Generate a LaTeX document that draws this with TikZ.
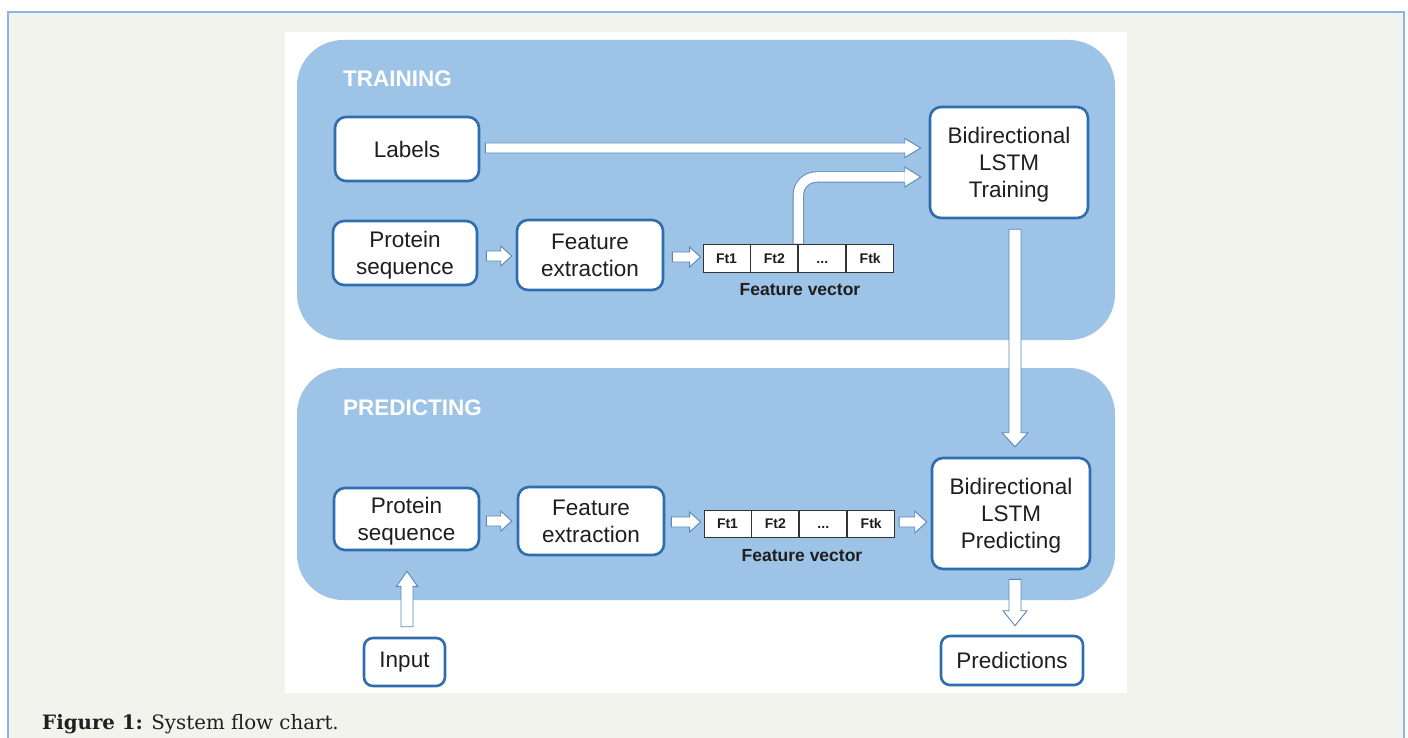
\documentclass[tikz,border=0pt]{standalone}
\usepackage{fontspec}
\setmainfont{Liberation Sans}
\newfontfamily\capfont{DejaVu Serif}
\usetikzlibrary{calc}
\definecolor{bgc}{HTML}{F3F3EE}
\definecolor{framec}{HTML}{8CB3E8}
\definecolor{panelc}{HTML}{9DC3E6}
\definecolor{nodec}{HTML}{2E6EAF}
\definecolor{arrc}{HTML}{5A86B8}
\definecolor{txtc}{HTML}{1E1E1E}
\begin{document}
\begin{tikzpicture}[x=1pt,y=-1pt,
  box/.style={draw=nodec, line width=2.6pt, fill=white, rounded corners=11pt, align=center, text=txtc, font=\fontsize{22.5}{27}\selectfont, inner sep=0pt},
  mline/.style={text depth=-1.5pt},
  cell/.style={draw=black!80, line width=0.9pt, fill=white, minimum width=47pt, minimum height=28pt, inner sep=0pt, text height=10.2pt, text depth=0pt, text=txtc, font=\bfseries\fontsize{14}{16}\selectfont},
  panel/.style={fill=panelc, rounded corners=46pt},
  ptitle/.style={anchor=base west, text=white, inner sep=0pt, font=\bfseries\fontsize{22.5}{27}\selectfont},
  fvlab/.style={font=\bfseries\fontsize{17.5}{20}\selectfont, text=txtc, inner sep=0pt},
  aw/.store in=\aw, ah/.store in=\ah, al/.store in=\al,
  aw=5pt, ah=10pt, al=11pt,
  barrow/.style={draw=arrc, line width=0.9pt, fill=white, to path={let \p1=(\tikztostart), \p2=(\tikztotarget), \n1={atan2(\y2-\y1,\x2-\x1)}, \n2={veclen(\x2-\x1,\y2-\y1)} in ($(\p1)+({\n1+90}:\aw)$) -- ($(\p1)+(\n1:{\n2-\al})+({\n1+90}:\aw)$) -- ($(\p1)+(\n1:{\n2-\al})+({\n1+90}:\ah)$) -- (\p2) -- ($(\p1)+(\n1:{\n2-\al})+({\n1-90}:\ah)$) -- ($(\p1)+(\n1:{\n2-\al})+({\n1-90}:\aw)$) -- ($(\p1)+({\n1-90}:\aw)$) -- cycle}},
]
\useasboundingbox (0,0) rectangle (1408,738);
\fill[white] (0,0) rectangle (1408,738);
\fill[bgc] (8,12) rectangle (1404,738);
\draw[framec, line width=1.5pt] (8,738) -- (8,12) -- (1404,12) -- (1404,738);
\fill[white] (285,32) rectangle (1127,693);

% panels
\fill[panel] (297,40) rectangle (1115,340);
\fill[panel] (297,368) rectangle (1115,600);
\node[ptitle] (ttrain) at (343,87) {TRAINING};
\node[ptitle] (tpred) at (343,415) {PREDICTING};

% training nodes
\node[box, minimum width=144pt, minimum height=64pt] (labels) at (407,149) {Labels};
\node[box, mline, minimum width=144pt, minimum height=64pt] (prot1) at (405,253) {Protein\\sequence};
\node[box, mline, minimum width=146pt, minimum height=70pt] (fe1) at (590,255) {Feature\\extraction};
\node[cell] (fa1) at (726.5,258) {Ft1};
\node[cell, anchor=west] (fa2) at (fa1.east) {Ft2};
\node[cell, anchor=west] (fa3) at (fa2.east) {...};
\node[cell, anchor=west] (fa4) at (fa3.east) {Ftk};
\node[fvlab] (fvl1) at (800,290) {Feature vector};
\node[box, mline, minimum width=158pt, minimum height=111pt] (train) at (1009,162.5) {Bidirectional\\LSTM\\Training};

% predicting nodes
\node[box, mline, minimum width=145pt, minimum height=62pt] (prot2) at (406.5,519) {Protein\\sequence};
\node[box, mline, minimum width=146pt, minimum height=68pt] (fe2) at (591,521) {Feature\\extraction};
\node[cell, minimum height=27pt] (fb1) at (727.5,523.5) {Ft1};
\node[cell, minimum height=27pt, anchor=west] (fb2) at (fb1.east) {Ft2};
\node[cell, minimum height=27pt, anchor=west] (fb3) at (fb2.east) {...};
\node[cell, minimum height=27pt, anchor=west] (fb4) at (fb3.east) {Ftk};
\node[fvlab] (fvl2) at (802,556) {Feature vector};
\node[box, mline, minimum width=158pt, minimum height=111pt] (pred) at (1011,513.5) {Bidirectional\\LSTM\\Predicting};
\node[box, minimum width=81pt, minimum height=48pt, rounded corners=9pt] (input) at (404.5,662) {Input};
\node[box, minimum width=142pt, minimum height=49pt, rounded corners=9pt] (outp) at (1012,660.5) {Predictions};

% arrows
\draw[barrow, aw=5pt, ah=9.5pt, al=16pt] ($(labels.east)+(5,-1)$) to ($(train.west)+(-8,-14.5)$);
\draw[barrow] ($(prot1.east)+(8,3)$) to ($(fe1.west)+(-4,1)$);
\draw[barrow] ($(fe1.east)+(8,2)$) to ($(fa1.west)+(-2,-1)$);
\draw[barrow, aw=6pt, ah=13pt, al=14pt] ($(train.south)+(6,10)$) to ($(pred.north)+(4,-10)$);
\draw[barrow] ($(prot2.east)+(6,2)$) to ($(fe2.west)+(-5,0)$);
\draw[barrow] ($(fe2.east)+(6,1)$) to ($(fb1.west)+(-3,-1.5)$);
\draw[barrow, ah=11pt, al=12pt] ($(fb4.east)+(4,-1.5)$) to ($(pred.west)+(-4,8.5)$);
\draw[barrow, aw=6pt, ah=10.5pt, al=15pt] ($(input.north)+(2.5,-10)$) to ($(prot2.south)+(0.5,20)$);
\draw[barrow, aw=6pt, ah=12pt, al=15pt] ($(pred.south)+(4,9)$) to ($(outp.north)+(3,-9)$);

% curved arrow from feature vector to training
\coordinate (cb) at ($(train.west)+(-24,14.5)$);
\coordinate (ct) at ($(train.west)+(-8,14.5)$);
\draw[arrc, line width=0.9pt, double=white, double distance=9.5pt, rounded corners=18pt] (fa2.north east) |- (cb);
\fill[white] ($(cb)+(0,-10)$) -- (ct) -- ($(cb)+(0,10)$) -- cycle;
\draw[arrc, line width=0.9pt, line join=miter] ($(cb)+(0,-5.2)$) -- ($(cb)+(0,-10)$) -- (ct) -- ($(cb)+(0,10)$) -- ($(cb)+(0,5.2)$);

% caption
\node[anchor=base west, inner sep=0pt, text=black!88, font=\capfont\fontsize{19.8}{23}\selectfont] (cap) at (42,729) {\textbf{Figure 1:} System flow chart.};
\end{tikzpicture}
\end{document}
